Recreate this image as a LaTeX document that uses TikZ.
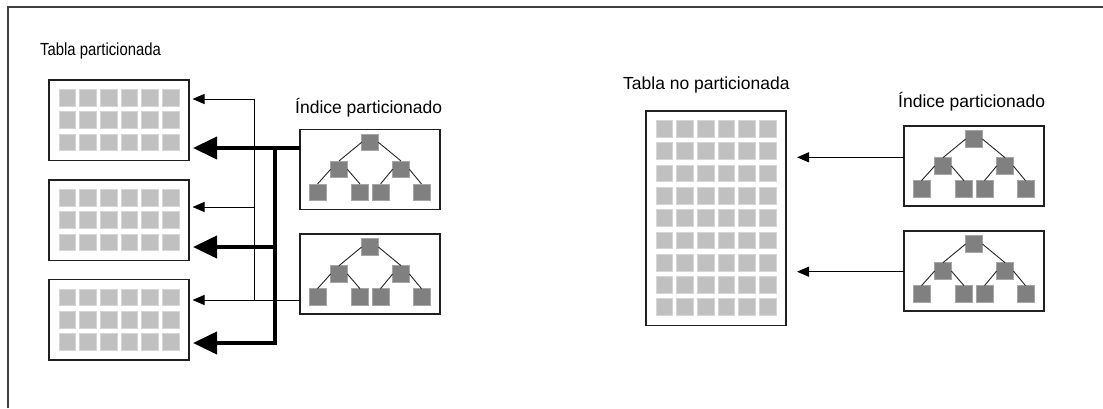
\documentclass[tikz,border=0pt]{standalone}
\usepackage{fontspec}
\setmainfont{Liberation Sans}
\usetikzlibrary{arrows.meta}
\definecolor{cellgray}{HTML}{C0C0C0}
\definecolor{cellline}{HTML}{D6D6D6}
\definecolor{nodegray}{HTML}{808080}
\definecolor{nodeline}{HTML}{A6A6A6}
\definecolor{framegray}{HTML}{404040}
\definecolor{boxline}{HTML}{202020}
\tikzset{
  tblbox/.style={draw=boxline, line width=1.4pt, fill=white, inner sep=0pt, outer sep=0pt},
  cell/.style={fill=cellgray, draw=cellline, line width=0.6pt},
  tnode/.style={fill=nodegray, draw=nodeline, line width=0.5pt, minimum size=16.7pt, inner sep=0pt, outer sep=0pt},
  tedge/.style={draw=black!85, line width=0.9pt},
  thinarr/.style={draw=black, line width=1pt, -{Triangle[length=12pt,width=10pt]}},
  thickarr/.style={draw=black, line width=4pt, line join=miter, -{Triangle[length=24pt,width=22pt]}},
  lbl/.style={inner sep=0pt, anchor=base west},
  tbl/.pic={
    \pgfmathsetmacro\tblh{36+(#1-1)*22.3}
    \node[tblbox, anchor=north west, minimum width=140pt, minimum height=\tblh pt] (-box) at (0,0) {};
    \foreach \rr in {1,...,#1}{
      \foreach \cc in {1,...,6}{
        \path[cell] ({10+(\cc-1)*20.67},{9.3+(\rr-1)*22.3}) rectangle ++(16.7,16.7);
      }
    }
  },
  idx/.pic={
    \node[tblbox, anchor=north west, minimum width=140pt, minimum height=80pt] (-box) at (0,0) {};
    \node[tnode] (-r) at (70,13) {};
    \node[tnode] (-a) at (39,40) {};
    \node[tnode] (-b) at (101,40) {};
    \node[tnode] (-c) at (17.5,63) {};
    \node[tnode] (-d) at (60,63) {};
    \node[tnode] (-e) at (80.5,63) {};
    \node[tnode] (-f) at (121.5,63) {};
    \draw[tedge] (-r.west) -- (-a.north) (-r.east) -- (-b.north)
                 (-a.west) -- (-c.north) (-a.east) -- (-d.north)
                 (-b.west) -- (-e.north) (-b.east) -- (-f.north);
  }
}
\begin{document}
\begin{tikzpicture}[x=1pt, y=-1pt, font=\fontsize{17.5}{20}\selectfont]
\useasboundingbox (0,0) rectangle (1103,408);
\fill[white] (0,0) rectangle (1103,408);
\draw[framegray, line width=1.8pt] (8,408) -- (8,7) -- (1103,7);

% labels
\node[lbl] (L1) at (40,55) {\scalebox{0.85}[1]{Tabla particionada}};
\node[lbl] (L2) at (295,113) {Índice particionado};
\node[lbl] (L3) at (623,89.5) {Tabla no particionada};
\node[lbl] (L4) at (898,107.7) {Índice particionado};

% tables
\pic (t1) at (49,80) {tbl=3};
\pic (t2) at (49,180) {tbl=3};
\pic (t3) at (49,279.5) {tbl=3};
\pic (t4) at (646,111) {tbl=9};

% indexes
\pic (i1) at (300,129.3) {idx};
\pic (i2) at (300,234) {idx};
\pic (i3) at (904,126) {idx};
\pic (i4) at (904,231) {idx};

% junction coordinates
\coordinate (s1) at (300,300);
\coordinate (v1) at (254,99);
\coordinate (v2) at (254,207);
\coordinate (v3) at (254,300);
\coordinate (s2) at (300,148);
\coordinate (v4) at (275,148);
\coordinate (v5) at (275,247);
\coordinate (v6) at (275,343);
\coordinate (r1) at (904,157.3);
\coordinate (r2) at (904,271.7);

% thin connectors (global index 2)
\draw[thinarr, shorten >=3.5pt] (s1) -- (t3-box.east |- s1);
\draw[thinarr, shorten >=3.5pt] (v3) -- (v1) -- (t1-box.east |- v1);
\draw[thinarr, shorten >=3.5pt] (v2) -- (t2-box.east |- v2);

% thick connectors (index 1)
\draw[thickarr, shorten >=4pt] (s2) -- (t1-box.east |- s2);
\draw[thickarr, shorten >=4pt] (v5) -- (t2-box.east |- v5);
\draw[thickarr, shorten >=4pt] (v4) -- (v6) -- (t3-box.east |- v6);

% right side
\draw[thinarr, shorten >=11pt] (r1) -- (t4-box.east |- r1);
\draw[thinarr, shorten >=11pt] (r2) -- (t4-box.east |- r2);
\end{tikzpicture}
\end{document}
